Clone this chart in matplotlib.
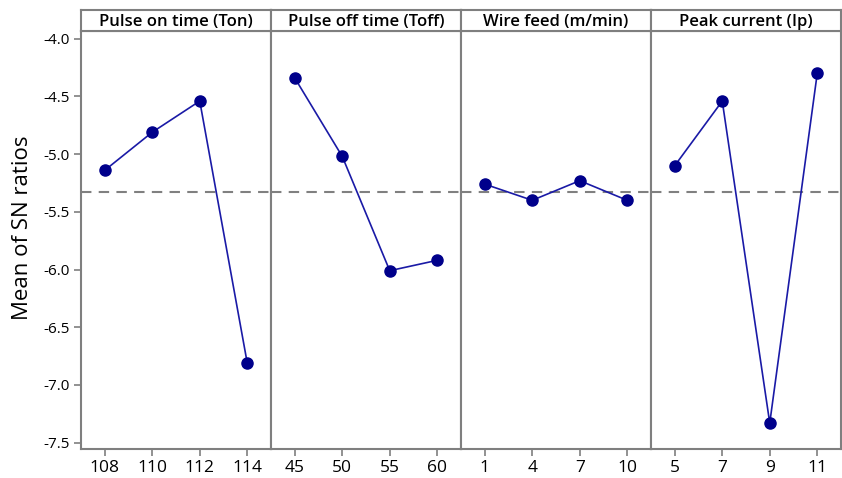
import matplotlib
matplotlib.use("Agg")
import matplotlib.pyplot as plt

plt.rcParams["font.family"] = ["Open Sans", "DejaVu Sans"]

# Main effects for SN ratios, one panel per factor
factors = ["Pulse on time (Ton)", "Pulse off time (Toff)", "Wire feed (m/min)", "Peak current (Ip)"]
levels = [
    ["108", "110", "112", "114"],
    ["45", "50", "55", "60"],
    ["1", "4", "7", "10"],
    ["5", "7", "9", "11"],
]
ton_sn = [-5.14, -4.81, -4.54, -6.81]
toff_sn = [-4.34, -5.02, -6.01, -5.92]
wire_sn = [-5.26, -5.40, -5.23, -5.40]
peak_sn = [-5.10, -4.54, -7.33, -4.30]
sn_means = [ton_sn, toff_sn, wire_sn, peak_sn]
grand_mean = -5.33

yticks = [-4.0, -4.5, -5.0, -5.5, -6.0, -6.5, -7.0, -7.5]

W, H = 842, 478
fig = plt.figure(figsize=(W / 100, H / 100), dpi=100)

left, right = 81 / W, 841 / W
bottom, top = 1 - 449 / H, 1 - 31 / H
head_h = 21 / H
pw = (right - left) / 4

frame = "#7f7f7f"
line_col = "#1a1aa6"
dot_col = "#00008b"

for i, (name, labs, vals) in enumerate(zip(factors, levels, sn_means)):
    ax = fig.add_axes([left + i * pw, bottom, pw, top - bottom])
    xs = range(len(vals))
    ax.plot(xs, vals, color=line_col, lw=1.2, marker="o", ms=8,
            markerfacecolor=dot_col, markeredgecolor=dot_col, zorder=3)
    ax.axhline(grand_mean, color="#808080", lw=1.5, ls=(0, (5, 3.5)), zorder=2)
    ax.set_xlim(-0.5, len(vals) - 0.5)
    ax.set_ylim(-7.555, -3.933)
    ax.set_xticks(list(xs))
    ax.set_xticklabels(labs, fontsize=12.5)
    ax.set_yticks(yticks)
    if i == 0:
        ax.set_yticklabels([f"{t:.1f}" for t in yticks], fontsize=11)
        ax.set_ylabel("Mean of SN ratios", fontsize=16)
        ax.yaxis.set_label_coords(-0.255, 0.53)
        ax.tick_params(axis="y", length=5, width=1.2, color=frame, pad=3)
    else:
        ax.tick_params(axis="y", left=False, labelleft=False)
    ax.tick_params(axis="x", length=5, width=1.2, color=frame, pad=3)
    for s in ax.spines.values():
        s.set_color(frame)
        s.set_linewidth(1.5)

    # factor name strip above the panel
    hx = fig.add_axes([left + i * pw, top, pw, head_h])
    hx.set_xticks([])
    hx.set_yticks([])
    for s in hx.spines.values():
        s.set_color(frame)
        s.set_linewidth(1.5)
    hx.text(0.5, 0.45, name, ha="center", va="center", fontsize=12,
            fontweight="semibold", transform=hx.transAxes)

fig.savefig("out.png", dpi=100)
